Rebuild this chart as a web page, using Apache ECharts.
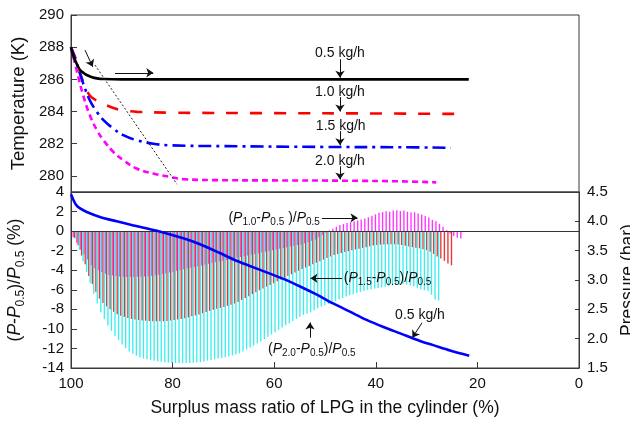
<!DOCTYPE html>
<html>
<head>
<meta charset="utf-8">
<script src="https://cdn.jsdelivr.net/npm/echarts@6/dist/echarts.min.js"></script>
<style>
html, body { margin: 0; padding: 0; background: #fff; }
#chart { width: 630px; height: 422px; }
</style>
</head>
<body>
<div id="chart"></div>
<script>
// Cylinder temperature (K) against surplus mass ratio (%) for four discharge rates
const t05X = [100, 99.6, 99.2, 98.7, 98.2, 97.5, 96.9, 96.0, 94.9, 93.5, 90, 80, 60, 40, 21.7];
const t05Y = [288.0, 287.5, 287.2, 286.85, 286.58, 286.4, 286.27, 286.15, 286.06, 286.02, 286.0, 286.0, 286.0, 286.0, 286.0];

const t10X = [100, 99.2, 98.6, 97.9, 97.2, 96.3, 95.3, 94.3, 93.3, 92.3, 90.4, 88.5, 87.0, 80.5, 60, 40, 22.8];
const t10Y = [288.0, 287.4, 286.8, 286.1, 285.55, 285.0, 284.75, 284.6, 284.43, 284.3, 284.1, 284.02, 283.98, 283.93, 283.9, 283.88, 283.85];

const t15X = [100, 98.9, 97.6, 96.3, 94.9, 93.6, 91.7, 89.7, 87.1, 83.8, 80.5, 70, 50, 35, 25.2];
const t15Y = [288.0, 287.0, 285.75, 284.7, 283.98, 283.47, 282.95, 282.53, 282.22, 282.0, 281.9, 281.85, 281.8, 281.78, 281.75];

const t20X = [100, 98.9, 97.6, 96.3, 94.9, 93.6, 91.7, 89.7, 87.1, 83.8, 80.5, 77.9, 72, 60, 45, 35, 28.1];
const t20Y = [288.0, 286.58, 285.0, 283.78, 282.84, 282.22, 281.5, 280.98, 280.46, 280.15, 279.94, 279.8, 279.74, 279.72, 279.7, 279.66, 279.6];

// Sampling positions (%) of the pressure-deviation bars
const ratioSteps = [
  100.0, 99.3, 98.6, 97.9, 97.2, 96.5, 95.8, 95.1, 94.4, 93.7,
  93.0, 92.3, 91.6, 90.9, 90.2, 89.5, 88.8, 88.1, 87.4, 86.7,
  86.0, 85.3, 84.6, 83.9, 83.2, 82.5, 81.8, 81.1, 80.4, 79.7,
  79.0, 78.3, 77.6, 76.9, 76.2, 75.5, 74.8, 74.1, 73.4, 72.7,
  72.0, 71.3, 70.6, 69.9, 69.2, 68.5, 67.8, 67.1, 66.4, 65.7,
  65.0, 64.3, 63.6, 62.9, 62.2, 61.5, 60.8, 60.1, 59.4, 58.7,
  58.0, 57.3, 56.6, 55.9, 55.2, 54.5, 53.8, 53.1, 52.4, 51.7,
  51.0, 50.3, 49.6, 48.9, 48.2, 47.5, 46.8, 46.1, 45.4, 44.7,
  44.0, 43.3, 42.6, 41.9, 41.2, 40.5, 39.8, 39.1, 38.4, 37.7,
  37.0, 36.3, 35.6, 34.9, 34.2, 33.5, 32.8, 32.1, 31.4, 30.7,
  30.0, 29.3, 28.6, 27.9, 27.2, 26.5, 25.8, 25.1, 24.4, 23.7,
  23.0
];

// (P1.0 - P0.5) / P0.5 in %
const dev10 = [
  0, -0.6, -1.2, -1.9, -2.4, -2.9, -3.5, -3.8, -4.0, -4.2,
  -4.35, -4.5, -4.55, -4.6, -4.65, -4.66, -4.68, -4.68, -4.68, -4.67,
  -4.66, -4.65, -4.62, -4.58, -4.52, -4.46, -4.4, -4.32, -4.24, -4.15,
  -4.06, -3.98, -3.9, -3.82, -3.75, -3.68, -3.6, -3.52, -3.43, -3.35,
  -3.27, -3.18, -3.1, -3.03, -2.96, -2.88, -2.8, -2.72, -2.65, -2.57,
  -2.5, -2.42, -2.34, -2.26, -2.18, -2.1, -2.03, -1.96, -1.88, -1.8,
  -1.73, -1.66, -1.58, -1.5, -1.43, -1.36, -1.25, -1.13, -1.0, -0.85,
  -0.62, -0.4, -0.16, 0.05, 0.25, 0.45, 0.62, 0.72, 0.82, 0.9,
  1.0, 1.08, 1.18, 1.28, 1.42, 1.58, 1.72, 1.88, 1.95, 2.02,
  1.98, 2.1, 2.14, 2.06, 2.12, 1.98, 1.9, 1.93, 1.8, 1.7,
  1.55, 1.4, 1.15, 1.0, 0.75, 0.45, 0.1, -0.25, -0.5, -0.68,
  -0.75
];

// (P1.5 - P0.5) / P0.5 in %
const dev15 = [
  0, -0.7, -1.45, -2.5, -3.4, -4.6, -5.4, -6.2, -6.9, -7.35,
  -7.7, -8.0, -8.25, -8.5, -8.65, -8.78, -8.88, -8.98, -9.05, -9.1,
  -9.14, -9.17, -9.2, -9.22, -9.23, -9.23, -9.22, -9.2, -9.15, -9.1,
  -9.05, -9.0, -8.92, -8.82, -8.72, -8.62, -8.52, -8.4, -8.27, -8.16,
  -8.05, -7.95, -7.85, -7.75, -7.64, -7.52, -7.4, -7.25, -7.05, -6.85,
  -6.65, -6.45, -6.25, -6.05, -5.87, -5.68, -5.5, -5.32, -5.14, -4.96,
  -4.78, -4.6, -4.42, -4.24, -4.06, -3.88, -3.72, -3.56, -3.4, -3.24,
  -3.08, -2.92, -2.76, -2.6, -2.45, -2.34, -2.24, -2.14, -2.05, -1.96,
  -1.88, -1.8, -1.72, -1.64, -1.56, -1.48, -1.42, -1.38, -1.36, -1.35,
  -1.34, -1.35, -1.38, -1.42, -1.5, -1.58, -1.64, -1.7, -1.76, -1.85,
  -1.95, -2.1, -2.35, -2.6, -2.8, -3.05, -3.3, -3.5
];

// (P2.0 - P0.5) / P0.5 in %
const dev20 = [
  0, -0.8, -1.9, -3.1, -4.2, -5.3, -6.4, -7.4, -8.3, -9.0,
  -9.65, -10.2, -10.7, -11.15, -11.6, -11.95, -12.3, -12.55, -12.75, -12.92,
  -13.03, -13.1, -13.17, -13.25, -13.32, -13.37, -13.4, -13.44, -13.48, -13.5,
  -13.52, -13.52, -13.5, -13.49, -13.47, -13.44, -13.4, -13.33, -13.25, -13.18,
  -13.1, -13.04, -12.98, -12.9, -12.82, -12.72, -12.62, -12.5, -12.3, -12.1,
  -11.9, -11.7, -11.5, -11.28, -11.05, -10.8, -10.57, -10.34, -10.1, -9.87,
  -9.64, -9.42, -9.2, -8.98, -8.76, -8.56, -8.42, -8.3, -8.1, -7.9,
  -7.7, -7.58, -7.45, -7.3, -7.17, -7.0, -6.85, -6.7, -6.56, -6.45,
  -6.33, -6.22, -6.12, -6.02, -5.95, -5.88, -5.81, -5.74, -5.68, -5.62,
  -5.56, -5.5, -5.45, -5.42, -5.45, -5.55, -5.65, -5.8, -5.95, -6.05,
  -6.1, -6.5, -7.0, -7.1
];

// Cylinder pressure (bar) at 0.5 kg/h
const p05X = [100, 99.5, 99.0, 98.2, 96.9, 94.3, 91.0, 87.7, 83.1, 77.9, 74.6, 70.7, 68.0, 64.8, 61.5, 58.2, 54.9, 51.6, 48.4, 45.1, 41.8, 38.5, 35.2, 31.3, 28.7, 25.4, 21.6];
const p05Y = [4.46, 4.36, 4.28, 4.22, 4.16, 4.075, 4.0, 3.93, 3.84, 3.71, 3.61, 3.46, 3.35, 3.24, 3.13, 3.02, 2.89, 2.75, 2.60, 2.46, 2.32, 2.2, 2.09, 1.96, 1.89, 1.80, 1.71];

// Axis ticks
const ratioTicks = [100, 80, 60, 40, 20, 0];
const tempRange = [279, 290];
const devRange = [-14, 4];
const presRange = [1.5, 4.5];

const FONT = 'Liberation Sans, Arial, Helvetica, sans-serif';
const AXIS_COLOR = '#3a3a3a';
const TEXT_COLOR = '#111';

const pairs = (xs, ys) => ys.map((y, i) => [xs[i], y]);

const chart = echarts.init(document.getElementById('chart'), null, { renderer: 'canvas' });

const axisLineStyle = { onZero: false, lineStyle: { color: AXIS_COLOR, width: 1 } };
const labelStyle = { color: TEXT_COLOR, fontSize: 15, fontFamily: FONT };

// Annotation arrows on the temperature panel (data coordinates)
const tempArrows = [
  [[97.24, 287.82], [95.73, 286.78]],
  [[91.34, 286.41], [83.8, 286.41]],
  [[47.05, 287.25], [47.05, 286.1]],
  [[47.05, 284.9], [47.05, 284.0]],
  [[47.05, 282.78], [47.05, 281.9]],
  [[47.05, 280.6], [47.05, 279.78]]
];
const tempGuide = [[95.28, 286.89], [79.13, 279.48]];

// Annotation arrows on the deviation panel (data coordinates)
const devArrows = [
  [[50.6, 1.36], [43.6, 1.36]],
  [[46.65, -4.82], [52.85, -4.82]],
  [[52.95, -10.9], [52.95, -9.35]],
  [[30.9, -9.38], [32.8, -10.9]]
];

const arrowLines = list => list.map(seg => [{ coord: seg[0] }, { coord: seg[1] }]);

const option = {
  animation: false,
  backgroundColor: '#fff',
  textStyle: { fontFamily: FONT },
  grid: [
    { left: 71, top: 15, width: 508, height: 177, outerBoundsMode: 'none', containLabel: false, show: true, borderColor: AXIS_COLOR, borderWidth: 1, backgroundColor: 'transparent' },
    { left: 71, top: 192, width: 508, height: 176, outerBoundsMode: 'none', containLabel: false, show: true, borderColor: AXIS_COLOR, borderWidth: 1, backgroundColor: 'transparent' }
  ],
  xAxis: [
    {
      type: 'value', gridIndex: 0, position: 'bottom', min: 0, max: 100, interval: 20, inverse: true,
      axisLine: axisLineStyle, axisTick: { show: false }, axisLabel: { show: false }, splitLine: { show: false }
    },
    {
      type: 'value', gridIndex: 1, position: 'bottom', min: 0, max: 100, interval: 20, inverse: true,
      axisLine: axisLineStyle,
      axisTick: { inside: true, length: 6, lineStyle: { color: AXIS_COLOR } },
      axisLabel: Object.assign({ margin: 8, formatter: v => ratioTicks.includes(v) ? String(v) : '' }, labelStyle),
      splitLine: { show: false },
      name: 'Surplus mass ratio of LPG in the cylinder (%)',
      nameLocation: 'middle', nameGap: 31,
      nameTextStyle: { fontSize: 17.5, color: TEXT_COLOR, fontFamily: FONT }
    }
  ],
  yAxis: [
    {
      type: 'value', gridIndex: 0, position: 'left', min: tempRange[0], max: tempRange[1], minInterval: 2, maxInterval: 2,
      axisLine: axisLineStyle,
      axisTick: { inside: true, length: 6, lineStyle: { color: AXIS_COLOR } },
      axisLabel: Object.assign({ margin: 7, showMinLabel: false }, labelStyle),
      splitLine: { show: false },
      name: 'Temperature (K)', nameLocation: 'middle', nameGap: 42, nameRotate: 90,
      nameTextStyle: { fontSize: 18.5, color: TEXT_COLOR, fontFamily: FONT }
    },
    {
      type: 'value', gridIndex: 1, position: 'left', min: devRange[0], max: devRange[1], interval: 2,
      axisLine: axisLineStyle,
      axisTick: { inside: true, length: 6, lineStyle: { color: AXIS_COLOR } },
      axisLabel: Object.assign({ margin: 7 }, labelStyle),
      splitLine: { show: false },
      name: '{n|(}{i|P}{n|-}{i|P}{s|0.5}{n|)/}{i|P}{s|0.5}{n| (%)}',
      nameLocation: 'middle', nameGap: 44, nameRotate: 90,
      nameTextStyle: {
        fontFamily: FONT, color: TEXT_COLOR,
        rich: {
          n: { fontSize: 17.5, lineHeight: 24, color: TEXT_COLOR, fontFamily: FONT },
          i: { fontSize: 17.5, lineHeight: 24, fontStyle: 'italic', color: TEXT_COLOR, fontFamily: FONT },
          s: { fontSize: 12, lineHeight: 12, verticalAlign: 'bottom', color: TEXT_COLOR, fontFamily: FONT }
        }
      }
    },
    {
      type: 'value', gridIndex: 1, position: 'right', min: presRange[0], max: presRange[1], interval: 0.5,
      axisLine: axisLineStyle,
      axisTick: { inside: true, length: 4, lineStyle: { color: AXIS_COLOR } },
      axisLabel: Object.assign({ margin: 8, formatter: v => v.toFixed(1) }, labelStyle),
      splitLine: { show: false },
      name: 'Pressure (bar)', nameLocation: 'middle', nameGap: 39, nameRotate: 90,
      nameTextStyle: { fontSize: 17.5, color: TEXT_COLOR, fontFamily: FONT }
    }
  ],
  series: [
    {
      name: 'T 0.5 kg/h', type: 'line', xAxisIndex: 0, yAxisIndex: 0,
      data: pairs(t05X, t05Y), showSymbol: false, smooth: 0.4,
      lineStyle: { color: '#000', width: 2.6 }, z: 4,
      markLine: {
        silent: true, symbol: ['none', 'arrow'], symbolSize: 7,
        label: { show: false }, emphasis: { disabled: true },
        lineStyle: { color: '#111', width: 1, type: 'solid' },
        data: arrowLines(tempArrows)
      }
    },
    {
      name: 'T 1.0 kg/h', type: 'line', xAxisIndex: 0, yAxisIndex: 0,
      data: pairs(t10X, t10Y), showSymbol: false, smooth: 0.4,
      lineStyle: { color: '#ff0000', width: 2.6, type: [12, 12] }, z: 3,
      markLine: {
        silent: true, symbol: ['none', 'none'],
        label: { show: false }, emphasis: { disabled: true },
        lineStyle: { color: '#222', width: 1, type: [2, 2] },
        data: [[{ coord: tempGuide[0] }, { coord: tempGuide[1] }]]
      }
    },
    {
      name: 'T 1.5 kg/h', type: 'line', xAxisIndex: 0, yAxisIndex: 0,
      data: pairs(t15X, t15Y), showSymbol: false, smooth: 0.4,
      lineStyle: { color: '#0000ff', width: 2.6, type: [13, 5, 3, 5] }, z: 3
    },
    {
      name: 'T 2.0 kg/h', type: 'line', xAxisIndex: 0, yAxisIndex: 0,
      data: pairs(t20X, t20Y), showSymbol: false, smooth: 0.4,
      lineStyle: { color: '#ff00ff', width: 2.6, type: [6, 4] }, z: 3
    },
    {
      name: 'dev 1.0', type: 'bar', xAxisIndex: 1, yAxisIndex: 1,
      data: pairs(ratioSteps, dev10), barWidth: 1.35, barGap: '0%',
      itemStyle: { color: '#ff33ff' }, z: 2
    },
    {
      name: 'dev 1.5', type: 'bar', xAxisIndex: 1, yAxisIndex: 1,
      data: pairs(ratioSteps, dev15), barWidth: 1.35, barGap: '0%',
      itemStyle: { color: '#ee3333' }, z: 2,
      markLine: {
        silent: true, symbol: ['none', 'arrow'], symbolSize: 7,
        label: { show: false }, emphasis: { disabled: true },
        lineStyle: { color: '#111', width: 1, type: 'solid' },
        data: arrowLines(devArrows)
      }
    },
    {
      name: 'dev 2.0', type: 'bar', xAxisIndex: 1, yAxisIndex: 1,
      data: pairs(ratioSteps, dev20), barWidth: 1.35, barGap: '0%',
      itemStyle: { color: '#3ceeee' }, z: 2,
      markLine: {
        silent: true, symbol: ['none', 'none'],
        label: { show: false }, emphasis: { disabled: true },
        lineStyle: { color: '#333', width: 1, type: 'solid' },
        data: [{ yAxis: 0 }]
      }
    },
    {
      name: 'P 0.5 kg/h', type: 'line', xAxisIndex: 1, yAxisIndex: 2,
      data: pairs(p05X, p05Y), showSymbol: false, smooth: 0.3,
      lineStyle: { color: '#0000ff', width: 2.6 }, z: 5
    }
  ]
};

chart.setOption(option);

// Text annotations placed through the axis scales
const tempNotes = [
  { text: '0.5 kg/h', at: [47.05, 287.64] },
  { text: '1.0 kg/h', at: [47.05, 285.2] },
  { text: '1.5 kg/h', at: [46.9, 283.1] },
  { text: '2.0 kg/h', at: [47.05, 280.9] }
];
const devRich = {
  n: { fontSize: 14, lineHeight: 18, color: TEXT_COLOR, fontFamily: FONT },
  i: { fontSize: 14, lineHeight: 18, fontStyle: 'italic', color: TEXT_COLOR, fontFamily: FONT },
  s: { fontSize: 10, lineHeight: 10, verticalAlign: 'bottom', color: TEXT_COLOR, fontFamily: FONT }
};
const devNotes = [
  { text: '{n|(}{i|P}{s|1.0}{n|-}{i|P}{s|0.5}{n| )/}{i|P}{s|0.5}', at: [51.0, 1.36], align: 'right' },
  { text: '{n|(}{i|P}{s|1.5}{n|-}{i|P}{s|0.5}{n|)/}{i|P}{s|0.5}', at: [46.3, -4.82], align: 'left' },
  { text: '{n|(}{i|P}{s|2.0}{n|-}{i|P}{s|0.5}{n|)/}{i|P}{s|0.5}', at: [52.6, -12.1], align: 'center' },
  { text: '{n|0.5 kg/h}', at: [31.3, -8.56], align: 'center' }
];

const graphics = [];
tempNotes.forEach(n => {
  const p = chart.convertToPixel({ xAxisIndex: 0, yAxisIndex: 0 }, n.at);
  graphics.push({
    type: 'text', x: p[0], y: p[1], silent: true, z: 10,
    style: { text: n.text, fontSize: 14, fontFamily: FONT, fill: TEXT_COLOR, align: 'center', verticalAlign: 'middle' }
  });
});
devNotes.forEach(n => {
  const p = chart.convertToPixel({ xAxisIndex: 1, yAxisIndex: 1 }, n.at);
  graphics.push({
    type: 'text', x: p[0], y: p[1], silent: true, z: 10,
    style: { text: n.text, rich: devRich, fill: TEXT_COLOR, fontFamily: FONT, align: n.align, verticalAlign: 'middle' }
  });
});
chart.setOption({ graphic: graphics });
</script>
</body>
</html>
